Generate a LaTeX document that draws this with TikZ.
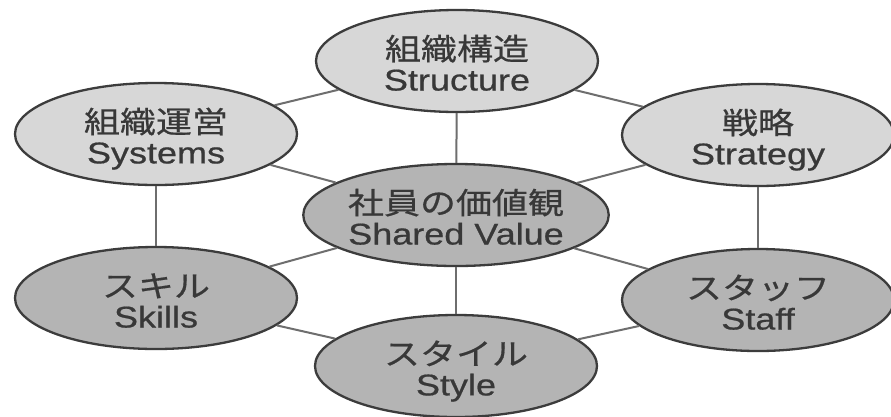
\documentclass[tikz,border=0pt]{standalone}
\usepackage{fontspec}
\setmainfont{Liberation Sans}[FakeBold=0.6]
\newfontfamily\jpfont{Noto Sans CJK JP}[FakeBold=0.5]
\usetikzlibrary{shapes.geometric}
\definecolor{edgecol}{HTML}{3C3C3C}
\definecolor{linecol}{HTML}{6E6E6E}
\definecolor{txtcol}{HTML}{383838}
\definecolor{lightfill}{HTML}{D7D7D7}
\definecolor{darkfill}{HTML}{B4B4B4}
\newcommand\sevtext[2]{\scalebox{1.2}[1]{\begin{tabular}{@{}c@{}}%
  {\jpfont\fontsize{30}{30}\selectfont #1}\rule[-7.5pt]{0pt}{42pt}\\
  {\fontsize{30}{30}\selectfont #2}\rule[-6pt]{0pt}{29pt}\end{tabular}}}
\tikzset{
  sev/.style={ellipse, draw=edgecol, line width=2.3pt, minimum width=282pt,
    minimum height=102pt, inner sep=0pt, text=txtcol},
  lightsev/.style={sev, fill=lightfill},
  darksev/.style={sev, fill=darkfill},
  link/.style={draw=linecol, line width=2pt},
}
\begin{document}
\begin{tikzpicture}[x=1pt,y=-1pt]
\fill[white] (0,0) rectangle (891,416);
\useasboundingbox (0,0) rectangle (891,416);
% ellipses
\node[lightsev] (structure) at (457,61) {\sevtext{組織構造}{Structure}};
\node[lightsev] (systems) at (156,134) {\sevtext{組織運営}{Systems}};
\node[lightsev, minimum width=272pt] (strategy) at (758,135) {\sevtext{戦略}{Strategy}};
\node[darksev] (shared) at (456,215) {\sevtext{社員の価値観}{Shared Value}};
\node[darksev] (skills) at (156,298) {\sevtext{スキル}{Skills}};
\node[darksev, minimum width=272pt] (staff) at (758,300) {\sevtext{スタッフ}{Staff}};
\node[darksev] (style) at (456,366) {\sevtext{スタイル}{Style}};
% connectors
\draw[link] (structure) -- (systems);
\draw[link] (structure) -- (strategy);
\draw[link] (structure) -- (shared);
\draw[link] (systems) -- (skills);
\draw[link] (strategy) -- (staff);
\draw[link] (systems) -- (shared);
\draw[link] (strategy) -- (shared);
\draw[link] (skills) -- (shared);
\draw[link] (staff) -- (shared);
\draw[link] (skills) -- (style);
\draw[link] (staff) -- (style);
\draw[link] (shared) -- (style);
\end{tikzpicture}
\end{document}
